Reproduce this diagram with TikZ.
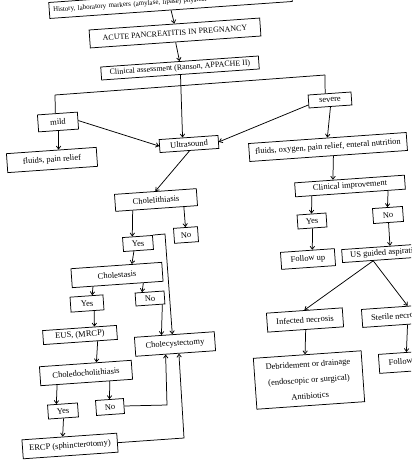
\documentclass[tikz,border=0pt]{standalone}
\usepackage{fontspec}
\setmainfont{Liberation Serif}
\usetikzlibrary{arrows.meta,calc}
\tikzset{
  box/.style={draw, line width=0.75pt, rotate=4, inner sep=0pt, align=center,
    font=\fontsize{8.5}{10}\selectfont},
  arr/.style={line width=0.75pt, -{Straight Barb[length=3pt,width=4.5pt]}},
  ln/.style={line width=0.75pt}
}
\begin{document}
\begin{tikzpicture}[x=1bp,y=-1bp]
\useasboundingbox (0,0) rectangle (411,467);
\clip (0,0) rectangle (411,467);
% nodes
\node[box, minimum width=243bp, minimum height=16bp, text width=235bp, align=left, inner xsep=4bp, font=\fontsize{7}{8}\selectfont] (top) at (170.5,2) {History, laboratory markers (amylase, lipase) physical examination};
\node[box, minimum width=171bp, minimum height=18bp, font=\fontsize{8}{9.6}\selectfont] (acute) at (175,33) {ACUTE PANCREATITIS IN PREGNANCY};
\node[box, minimum width=158bp, minimum height=13bp, font=\fontsize{8}{9.6}\selectfont] (clin) at (180,68) {Clinical assessment (Ranson, APPACHE II)};
\node[box, minimum width=43bp, minimum height=13bp] (sev) at (330,100) {severe};
\node[box, minimum width=40bp, minimum height=17bp] (mild) at (58,122) {mild};
\node[box, minimum width=90bp, minimum height=19bp] (fl) at (52,160) {fluids, pain relief};
\node[box, minimum width=59bp, minimum height=13bp] (us) at (189,144) {Ultrasound};
\node[box, minimum width=158bp, minimum height=18bp] (fo) at (328,147) {fluids, oxygen, pain relief, enteral nutrition};
\node[box, minimum width=110bp, minimum height=14bp] (ci) at (350,186) {Clinical improvement};
\node[box, minimum width=82bp, minimum height=17bp] (chol) at (156,200) {Cholelithiasis};
\node[box, minimum width=30bp, minimum height=14bp] (yes1) at (138,243.5) {Yes};
\node[box, minimum width=24bp, minimum height=15bp] (no1) at (186,235) {No};
\node[box, minimum width=29bp, minimum height=14bp] (yesR) at (312,221) {Yes};
\node[box, minimum width=30bp, minimum height=15bp] (noR) at (388,215) {No};
\node[box, minimum width=54bp, minimum height=17bp] (fu) at (308,259) {Follow up};
\node[box, minimum width=88bp, minimum height=13bp] (usa) at (386,253) {US guided aspiration};
\node[box, minimum width=91bp, minimum height=19bp] (chs) at (117,275) {Cholestasis};
\node[box, minimum width=33bp, minimum height=15bp] (yes2) at (87,303.5) {Yes};
\node[box, minimum width=29bp, minimum height=13bp] (no2) at (150,298.5) {No};
\node[box, minimum width=74bp, minimum height=14bp] (eus) at (80,335) {EUS, (MRCP)};
\node[box, minimum width=80bp, minimum height=19bp] (chy) at (175,344) {Cholecystectomy};
\node[box, minimum width=76bp, minimum height=19bp] (inf) at (305,320) {Infected necrosis};
\node[box, minimum width=70bp, minimum height=18bp] (ster) at (397,316) {Sterile necrosis};
\node[box, minimum width=92bp, minimum height=19bp] (chd) at (86,373) {Choledocholithiasis};
\node[box, minimum width=108bp, minimum height=51bp] (deb) at (309,380) {Debridement or drainage\\[6bp](endoscopic or surgical)\\[6bp]Antibiotics};
\node[box, minimum width=54bp, minimum height=19bp] (fuR) at (406,362) {Follow up};
\node[box, minimum width=30bp, minimum height=14bp] (yes3) at (63,411) {Yes};
\node[box, minimum width=28bp, minimum height=15bp] (no3) at (110,407) {No};
\node[box, minimum width=95bp, minimum height=19bp] (ercp) at (70,446) {ERCP (sphincterotomy)};
% helper coordinates
\coordinate (hl) at (55,95);
\coordinate (hr) at (325,75);
\coordinate (k1) at (165,234);
\coordinate (k2) at (167,405);
\coordinate (k3) at (184,438);
% connectors
\draw[arr] (top.south) -- (acute.north);
\draw[arr] (acute.south) -- (clin.north);
\draw[arr] (clin.south) -- ($(us.north west)!0.4!(us.north east)$);
\draw[ln] (hl) -- (hr);
\draw[ln] (hl) -- ($(mild.north west)!0.45!(mild.north east)$);
\draw[ln] (hr) -- ($(sev.north west)!0.4!(sev.north east)$);
\draw[arr] (mild.south) -- ($(fl.north west)!0.58!(fl.north east)$);
\draw[arr] (mild.east) -- (us.west);
\draw[arr] ($(sev.north west)!0.75!(sev.south west)$) -- (us.east);
\draw[arr] (sev.south) -- (fo.north);
\draw[arr] (us.south) -- (chol.north);
\draw[arr] ($(chol.south west)!0.21!(chol.south east)$) -- ($(yes1.north west)!0.33!(yes1.north east)$);
\draw[arr] ($(chol.south west)!0.83!(chol.south east)$) -- (no1.north);
\draw[arr] (yes1.north east) -- (k1) -- ($(chy.north west)!0.475!(chy.north east)$);
\draw[arr] ($(yes1.south west)!0.35!(yes1.south east)$) -- ($(chs.north west)!0.67!(chs.north east)$);
\draw[arr] ($(chs.south west)!0.23!(chs.south east)$) -- ($(yes2.north west)!0.67!(yes2.north east)$);
\draw[arr] ($(chs.south west)!0.78!(chs.south east)$) -- ($(no2.north west)!0.25!(no2.north east)$);
\draw[arr] ($(no2.south west)!0.9!(no2.south east)$) -- ($(chy.north west)!0.34!(chy.north east)$);
\draw[arr] ($(yes2.south west)!0.7!(yes2.south east)$) -- ($(eus.north west)!0.7!(eus.north east)$);
\draw[arr] ($(eus.south west)!0.73!(eus.south east)$) -- ($(chd.north west)!0.62!(chd.north east)$);
\draw[arr] ($(chd.south west)!0.18!(chd.south east)$) -- ($(yes3.north west)!0.3!(yes3.north east)$);
\draw[arr] ($(chd.south west)!0.75!(chd.south east)$) -- (no3.north);
\draw[arr] (yes3.south) -- ($(ercp.north west)!0.43!(ercp.north east)$);
\draw[arr] (no3.east) -- (k2) -- ($(chy.south west)!0.375!(chy.south east)$);
\draw[arr] (ercp.east) -- (k3) -- ($(chy.south west)!0.54!(chy.south east)$);
\draw[arr] ($(fo.south west)!0.53!(fo.south east)$) -- ($(ci.north west)!0.35!(ci.north east)$);
\draw[arr] ($(ci.south west)!0.15!(ci.south east)$) -- (yesR.north);
\draw[arr] ($(ci.south west)!0.84!(ci.south east)$) -- (noR.north);
\draw[arr] (yesR.south) -- ($(fu.north west)!0.59!(fu.north east)$);
\draw[arr] (noR.south) -- ($(usa.north west)!0.55!(usa.north east)$);
\draw[arr] ($(usa.south west)!0.35!(usa.south east)$) -- (inf.north);
\draw[arr] ($(usa.south west)!0.35!(usa.south east)$) -- ($(ster.north west)!0.66!(ster.north east)$);
\draw[arr] (inf.south) -- ($(deb.north west)!0.48!(deb.north east)$);
\draw[arr] ($(ster.south west)!0.64!(ster.south east)$) -- ($(fuR.north west)!0.52!(fuR.north east)$);
\end{tikzpicture}
\end{document}
